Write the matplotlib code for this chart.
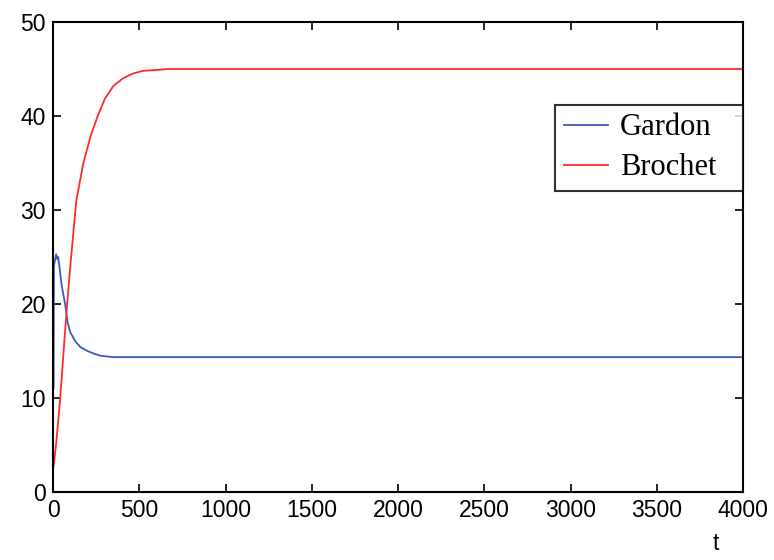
import matplotlib.pyplot as plt
import numpy as np

# Populations gardon / brochet au cours du temps
t_gardon = [0, 1, 2, 4, 10, 18, 25, 30, 37, 50, 70, 85, 100, 130, 160, 200, 240, 276, 347, 500, 1000, 2000, 3000, 4000]
gardon = [0, 24, 11, 24, 24.5, 25.3, 24.8, 25.0, 24.0, 22.0, 20.0, 18.0, 17.0, 16.0, 15.4, 15.0, 14.7, 14.5, 14.35, 14.35, 14.35, 14.35, 14.35, 14.35]

t_brochet = [0, 6, 20, 41, 65, 82, 100, 135, 176, 220, 259, 300, 350, 405, 460, 520, 600, 670, 1000, 2000, 3000, 4000]
brochet = [2.5, 3.1, 5.5, 9.8, 15.9, 20.0, 24.0, 31.0, 35.0, 38.0, 40.0, 41.8, 43.2, 44.0, 44.5, 44.8, 44.9, 45.0, 45.0, 45.0, 45.0, 45.0]

xticks = [0, 500, 1000, 1500, 2000, 2500, 3000, 3500, 4000]
yticks = [0, 10, 20, 30, 40, 50]

fig = plt.figure(figsize=(7.74, 5.6), dpi=100)
ax = fig.add_axes([0.0685, 0.1214, 0.8915, 0.8393])

ax.plot(t_gardon, gardon, color='#3a5cb8', lw=1.3, label='Gardon')
ax.plot(t_brochet, brochet, color='#ff2a2a', lw=1.3, label='Brochet')

ax.set_xlim(0, 4000)
ax.set_ylim(0, 50)
ax.set_xticks(xticks)
ax.set_yticks(yticks)
ax.tick_params(direction='in', length=6, width=1.2, top=True, right=True,
               labelsize=16.5, pad=5, colors='black')
for lbl in ax.get_xticklabels() + ax.get_yticklabels():
    lbl.set_family('Liberation Sans')
for s in ax.spines.values():
    s.set_linewidth(1.5)

ax.set_xlabel('t', fontsize=16.5, family='Liberation Sans')
ax.xaxis.set_label_coords(0.961, -0.086)

# boîte de légende étirée jusqu'au bord droit des axes
leg = ax.legend(loc='upper right', bbox_to_anchor=(0.7275, 0.6426, 0.2725, 0.181),
                mode='expand',
                prop={'family': 'Liberation Serif', 'size': 22},
                frameon=True, fancybox=False, edgecolor='black',
                handlelength=1.45, handletextpad=0.4, borderpad=0.28,
                labelspacing=0.36, borderaxespad=0.0)
leg.get_frame().set_linewidth(1.5)

fig.savefig('out.png', dpi=100)
